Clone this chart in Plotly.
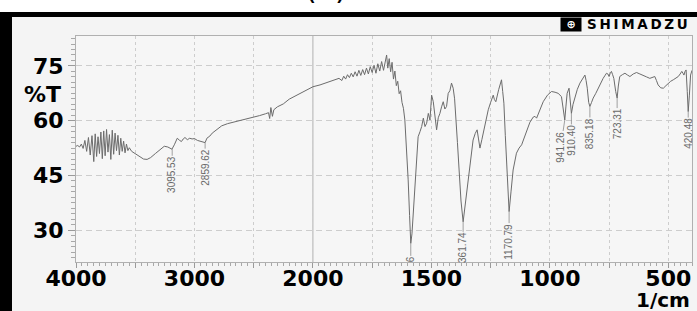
import numpy as np
import plotly.graph_objects as go

# ---------------- data ----------------
wavenumber = [
    4000, 3985, 3970, 3955, 3940, 3925, 3910, 3895, 3880, 3865, 3850, 3838, 3826, 3814, 3802,
    3790, 3778, 3766, 3754, 3742, 3730, 3718, 3706, 3694, 3682, 3670, 3658, 3646, 3634, 3622,
    3610, 3598, 3586, 3574, 3562, 3550, 3530, 3500, 3460, 3430, 3400, 3370, 3330, 3290, 3255,
    3225, 3190, 3170, 3145, 3125, 3110, 3095, 3080, 3060, 3040, 3020, 3000, 2975, 2950, 2925,
    2910, 2895, 2870, 2850, 2810, 2770, 2720, 2680, 2620, 2560, 2500, 2450, 2400, 2375, 2365,
    2355, 2342, 2330, 2300, 2250, 2200, 2150, 2100, 2050, 2000,
    1970, 1942, 1915, 1890, 1878, 1870, 1862, 1854, 1846, 1838, 1830, 1822, 1814, 1806, 1798,
    1790, 1782, 1774, 1766, 1758, 1750, 1742, 1734, 1726, 1718, 1710, 1702, 1694, 1689, 1684,
    1678, 1672, 1666, 1660, 1654, 1648, 1642, 1636, 1630, 1624, 1618, 1612, 1604, 1598, 1592,
    1587, 1582, 1577, 1571, 1565, 1556, 1548, 1541, 1534, 1527, 1520, 1513, 1506, 1499, 1492,
    1485, 1478, 1471, 1464, 1457, 1450, 1443, 1436, 1429, 1422, 1415, 1408, 1402, 1397, 1390,
    1383, 1375, 1366, 1356, 1345, 1334, 1324, 1315, 1307, 1301, 1295, 1287, 1278, 1268, 1260,
    1250, 1239, 1234, 1228, 1216, 1204, 1199, 1194, 1188, 1183, 1177, 1172, 1164, 1155, 1141,
    1130, 1119, 1108, 1098, 1084, 1070, 1063, 1056, 1042, 1028, 1010, 993, 978, 965, 951,
    944, 937, 932, 927, 919, 914, 909, 902, 894, 884, 873, 862, 852, 847, 842,
    836, 831, 824, 817, 806, 796, 785, 775, 768, 761, 755, 750, 745, 740, 735,
    730, 722, 716, 711, 705, 694, 683, 672, 662, 648, 634, 620, 606, 592, 578,
    567, 557, 550, 543, 532, 521, 510, 500, 490, 479, 468, 458, 450, 443, 438,
    434, 430, 425, 420, 416, 411, 406, 400,
]
transmittance = [
    53.0, 53.2, 52.8, 53.6, 52.4, 54.6, 51.6, 55.4, 50.6, 55.9, 48.8, 56.4, 50.2, 55.6, 51.0,
    56.9, 49.6, 57.2, 50.4, 57.6, 51.4, 56.2, 49.4, 57.4, 50.8, 56.6, 51.8, 56.0, 50.6, 55.2,
    51.6, 54.4, 51.2, 53.6, 51.8, 52.6, 51.6, 51.0, 50.0, 49.5, 49.4, 49.9, 51.0, 52.2, 53.0,
    52.8, 52.2, 53.4, 55.2, 54.6, 54.3, 55.0, 55.4, 54.8, 55.2, 55.0, 55.1, 54.6, 54.3, 54.1,
    54.0, 55.2, 55.8, 56.6, 57.7, 58.6, 59.2, 59.5, 60.1, 60.5, 61.0, 61.4, 61.9, 62.2, 60.6,
    63.6, 61.2, 63.0, 63.8, 64.6, 65.9, 66.8, 67.6, 68.4, 69.3,
    69.8, 70.4, 71.0, 71.6, 71.0, 72.2, 71.4, 72.6, 71.8, 73.0, 72.0, 73.4, 72.2, 73.8, 72.4,
    74.0, 72.6, 74.4, 72.8, 74.8, 73.2, 75.2, 73.0, 75.6, 73.6, 76.2, 73.8, 76.8, 78.0, 74.4,
    77.0, 73.4, 76.0, 71.4, 73.6, 69.6, 70.8, 67.4, 68.2, 65.0, 63.4, 60.2, 52.0, 43.8, 34.0,
    26.4, 29.0, 33.7, 40.0, 46.5, 55.6, 57.0, 58.4, 60.7, 58.4, 59.3, 62.0, 60.2, 67.0, 65.2,
    61.5, 57.5, 60.8, 62.0, 63.8, 65.2, 63.2, 63.9, 67.5, 68.2, 70.3, 68.9, 66.0, 62.0, 54.0,
    46.5, 38.0, 32.3, 37.5, 43.8, 50.0, 54.7, 56.5, 57.5, 55.0, 52.5, 54.8, 57.5, 60.5, 63.0,
    65.0, 67.0, 65.8, 65.2, 68.5, 71.2, 68.0, 64.8, 56.0, 48.3, 40.0, 35.1, 40.5, 46.5, 51.1,
    52.5, 53.4, 55.5, 57.5, 59.6, 61.0, 61.2, 60.7, 63.0, 65.2, 67.0, 68.0, 67.8, 67.5, 66.6,
    63.5, 60.2, 64.0, 67.5, 68.9, 66.0, 62.0, 64.5, 66.6, 68.6, 70.3, 71.5, 72.5, 71.0, 68.9,
    65.0, 63.9, 65.0, 66.2, 67.5, 68.9, 70.2, 71.6, 72.3, 73.0, 72.8, 72.1, 73.0, 73.5, 72.6,
    71.6, 68.0, 66.2, 69.5, 72.1, 72.6, 73.0, 72.5, 72.1, 72.8, 73.2, 72.8, 72.5, 72.0, 71.6,
    71.9, 72.1, 71.0, 69.8, 69.0, 68.9, 69.6, 70.3, 70.8, 71.2, 71.6, 72.1, 72.8, 73.5, 73.0,
    72.5, 73.4, 73.9, 68.0, 62.5, 67.0, 72.5, 73.8,
]

peak_labels = ["3095.53", "2859.62", "6", "361.74", "1170.79",
               "941.26", "910.40", "835.18", "723.31", "420.48"]
peak_positions = [3188, 2910, 1587, 1366, 1172, 937, 909, 831, 716, 416]

x_tick_values = [4000, 3500, 3000, 2500, 2000, 1750, 1500, 1250, 1000, 750, 500]
x_tick_text = ["4000", "", "3000", "", "2000", "", "1500", "", "1000", "", "500"]
y_tick_values = [30, 45, 60, 75]

# ---------------- styling ----------------
label_offsets = [26, 25, 16, 26, 30, 27, 27, 27, 26, 22]   # px from peak to label centre
label_shift = [0, 0, 0, 0, 0, -4, 0, 0, 0, 0]
FONT = "DejaVu Sans"


def to_axis(w):
    """Shimadzu split scale: 4000-2000 compressed by 2, 2000-400 linear."""
    w = np.asarray(w, dtype=float)
    return np.where(w >= 2000, (4000 - w) / 2.0, 1000 + (2000 - w))


wn = np.array(wavenumber, dtype=float)
tr = np.array(transmittance, dtype=float)

fig = go.Figure()
fig.add_trace(go.Scatter(
    x=to_axis(wn), y=tr, mode="lines",
    line=dict(color="#6c6c6c", width=1),
    hoverinfo="skip", showlegend=False,
))

# peak labels
order = np.argsort(wn)
for txt, pos, off, sh in zip(peak_labels, peak_positions, label_offsets, label_shift):
    yv = float(np.interp(pos, wn[order], tr[order]))
    fig.add_annotation(
        x=float(to_axis(pos)), y=yv, xref="x", yref="y",
        text=txt, textangle=-90, showarrow=True, arrowhead=0,
        arrowwidth=0.8, arrowcolor="#8a8a8a", ax=sh, ay=off,
        font=dict(family="Liberation Sans", size=10, color="#6a6a6a"),
        borderpad=0,
    )

# solid 2000 line
fig.add_shape(type="line", xref="x", yref="paper",
              x0=float(to_axis(2000)), x1=float(to_axis(2000)), y0=0, y1=1,
              line=dict(color="#b0b0b0", width=1), layer="below")

# frame decorations
fig.add_shape(type="rect", xref="paper", yref="paper", x0=-0.2, x1=1.1,
              y0=1.1062, y1=1.35, fillcolor="white", line=dict(width=0), layer="above")
fig.add_shape(type="rect", xref="paper", yref="paper", x0=-0.2, x1=1.1,
              y0=1.0841, y1=1.1062, fillcolor="black", line=dict(width=0), layer="above")
fig.add_shape(type="rect", xref="paper", yref="paper", x0=-0.2, x1=-0.1039,
              y0=-0.25, y1=1.1062, fillcolor="black", line=dict(width=0), layer="above")

# texts
fig.add_annotation(xref="paper", yref="paper", x=0.406, y=1.297, text="(a)",
                   xanchor="center", yanchor="top", showarrow=False,
                   font=dict(family=FONT, size=30, color="black"))
fig.add_annotation(xref="paper", yref="paper", x=-0.0211, y=0.743, text="%T",
                   xanchor="right", yanchor="middle", showarrow=False,
                   font=dict(family=FONT, size=22, color="black", weight="bold"))
fig.add_annotation(xref="paper", yref="paper", x=1.0, y=-0.168, text="1/cm",
                   xanchor="right", yanchor="middle", showarrow=False,
                   font=dict(family=FONT, size=20, color="black", weight="bold"))
fig.add_annotation(xref="paper", yref="paper", x=0.803, y=1.053,
                   text="\u2002⊕\u2002",
                   xanchor="center", yanchor="middle",
                   showarrow=False, bgcolor="black", borderpad=0,
                   font=dict(family=FONT, size=11, color="white", weight="bold"))
fig.add_annotation(xref="paper", yref="paper", x=0.826, y=1.053,
                   text="S\u2009H\u2009I\u2009M\u2009A\u2009D\u2009Z\u2009U",
                   xanchor="left", yanchor="middle", showarrow=False,
                   font=dict(family=FONT, size=13.5, color="black", weight="bold"))

axis_font = dict(family=FONT, size=22, color="black", weight="bold")
fig.update_layout(
    width=697, height=311,
    margin=dict(l=76, r=5, t=36, b=49, pad=0, autoexpand=False),
    paper_bgcolor="#f4f4f4", plot_bgcolor="#f6f6f6",
    xaxis=dict(
        range=[0, 2600], tickmode="array",
        tickvals=to_axis(x_tick_values).tolist(), ticktext=x_tick_text,
        showgrid=True, gridcolor="#cdcdcd", griddash="3px,3px", gridwidth=1,
        ticks="outside", ticklen=5, tickcolor="#9a9a9a",
        showline=True, linecolor="#b0b0b0", linewidth=1, mirror=True,
        zeroline=False, tickfont=axis_font, ticklabelstandoff=-8, automargin=False,
        minor=dict(tickmode="linear", tick0=0, dtick=25, ticks="outside",
                   ticklen=3, tickcolor="#a8a8a8", showgrid=False),
    ),
    yaxis=dict(
        range=[21.3, 83.2], tickmode="array", tickvals=y_tick_values,
        showgrid=True, gridcolor="#cdcdcd", griddash="6px,4px", gridwidth=1,
        ticks="outside", ticklen=7, tickcolor="#9a9a9a",
        showline=True, linecolor="#b0b0b0", linewidth=1, mirror=True,
        zeroline=False, tickfont=axis_font, ticklabelstandoff=0, automargin=False,
        minor=dict(tickmode="linear", tick0=0, dtick=1.5, ticks="outside",
                   ticklen=4, tickcolor="#a8a8a8", showgrid=False),
    ),
)

fig.write_html("out.html", config={"displayModeBar": False},
               post_script="document.body.style.margin='0';")
